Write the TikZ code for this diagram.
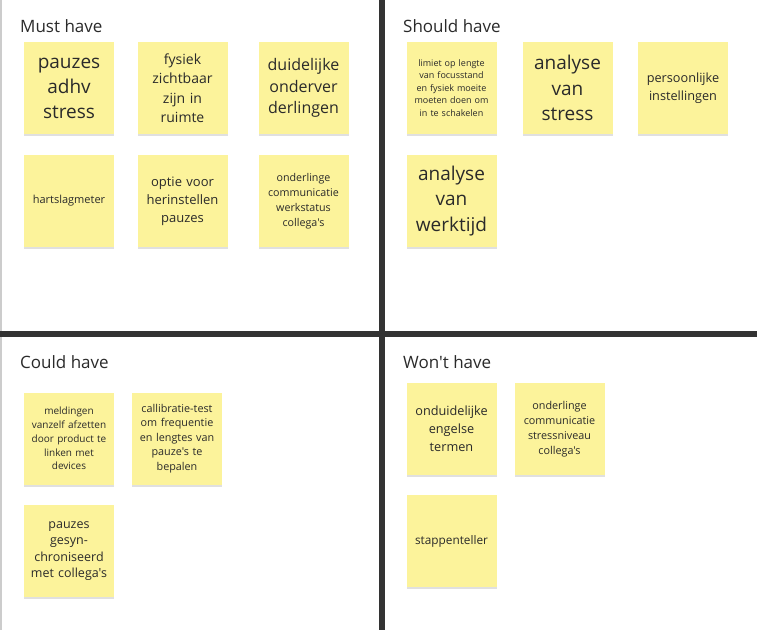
\documentclass[tikz,border=0pt]{standalone}
\usepackage{fontspec}
\setmainfont{Open Sans}[Ligatures=TeXReset]
\usetikzlibrary{shadows}
\definecolor{sticky}{HTML}{FCF39B}
\definecolor{divider}{HTML}{333333}
\definecolor{ink}{HTML}{2A2A2A}
\tikzset{
  note/.style={fill=sticky, minimum width=90pt, minimum height=92pt, inner sep=0pt,
    text width=86pt, align=center, text=ink,
    drop shadow={shadow xshift=0pt, shadow yshift=-2pt, opacity=0.12, fill=black}},
  qtitle/.style={anchor=base west, inner sep=0pt, text=ink, font=\fontsize{17}{20}\selectfont},
  divline/.style={draw=divider, line width=6pt},
}
\newcommand{\fs}[2]{\fontsize{#1}{#2}\selectfont}
\begin{document}
\begin{tikzpicture}[x=1pt,y=-1pt]
\useasboundingbox (0,0) rectangle (757,630);
\fill[white] (0,0) rectangle (757,630);
\draw[black!20, line width=1.5pt] (0.75,0) -- (0.75,630);
% dividers
\coordinate (vt) at (382,0);
\coordinate (vb) at (382,630);
\coordinate (hl) at (0,334);
\coordinate (hr) at (757,334);
\draw[divline] (vt) -- (vb);
\draw[divline] (hl) -- (hr);
% titles
\node[qtitle] (tmust) at (20,32) {Must have};
\node[qtitle] (tshould) at (403,32) {Should have};
\node[qtitle] (tcould) at (20,368) {Could have};
\node[qtitle] (twont) at (403,368) {Won't have};
% Must have
\node[note, font=\fs{19}{25}] (m1) at (69,88) {pauzes\\adhv\\stress};
\node[note, font=\fs{14}{19.5}] (m2) at (182.5,88) {fysiek\\zichtbaar\\zijn in\\ruimte};
\node[note, font=\fs{16}{21.7}] (m3) at (303.5,88) {duidelijke\\onderver\\derlingen};
\node[note, font=\fs{11}{15}] (m4) at (69,201) {hartslagmeter};
\node[note, font=\fs{13}{18}] (m5) at (182.5,201) {optie voor\\herinstellen\\pauzes};
\node[note, font=\fs{10.7}{15}] (m6) at (303.5,201) {onderlinge\\communicatie\\werkstatus\\collega's};
% Should have
\node[note, font=\fs{9}{12.5}] (s1) at (451.5,88) {limiet op lengte\\van focusstand\\en fysiek moeite\\moeten doen om\\in te schakelen};
\node[note, font=\fs{19}{25.5}] (s2) at (567.5,88) {analyse\\van\\stress};
\node[note, font=\fs{12.7}{17.7}] (s3) at (683,88) {persoonlijke\\instellingen};
\node[note, font=\fs{19}{25.5}] (s4) at (451.5,201) {analyse\\van\\werktijd};
% Could have
\node[note, font=\fs{10}{13.8}] (c1) at (69,438.5) {meldingen\\vanzelf afzetten\\door product te\\linken met\\devices};
\node[note, font=\fs{10.8}{14.6}] (c2) at (177,438.5) {callibratie-test\\om frequentie\\en lengtes van\\pauze's te\\bepalen};
\node[note, font=\fs{12.5}{16.5}] (c3) at (69,551) {pauzes\\gesyn-\\chroniseerd\\met collega's};
% Won't have
\node[note, font=\fs{12.7}{18}] (w1) at (451.5,429) {onduidelijke\\engelse\\termen};
\node[note, font=\fs{10.8}{15}] (w2) at (559.5,429) {onderlinge\\communicatie\\stressniveau\\collega's};
\node[note, font=\fs{11.8}{16}] (w3) at (451.5,541) {stappenteller};
\end{tikzpicture}
\end{document}
